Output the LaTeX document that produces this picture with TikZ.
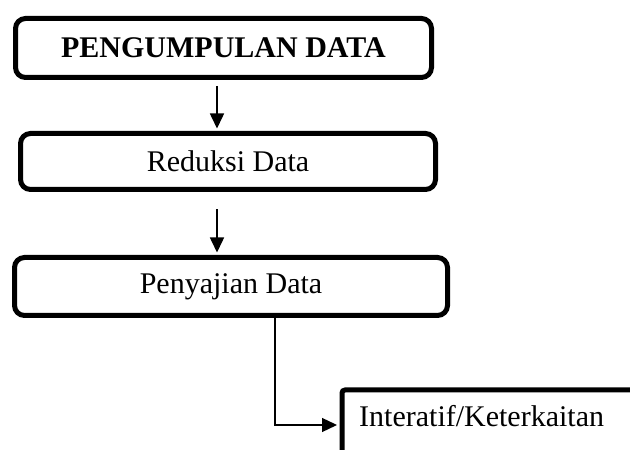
\documentclass[tikz,border=0pt]{standalone}
\usepackage{fontspec}
\setmainfont{Liberation Serif}
\usetikzlibrary{calc}
\usetikzlibrary{positioning}
\usetikzlibrary{arrows.meta}

\begin{document}
\begin{tikzpicture}[x=1pt,y=1pt,
    tahap/.style={draw,line width=5pt,rounded corners=10pt,inner sep=0pt,font=\fontsize{30}{35}\selectfont},
    teks/.style={inner sep=0pt,font=\fontsize{30}{35}\selectfont},
    panah/.style={line width=1.6pt,-{Triangle[length=15pt,width=14pt]},shorten >=2.5pt}]
        \clip (0,0) rectangle (630,450);
        \coordinate (poros) at (217,0);

        \node[tahap,minimum width=416pt,minimum height=59pt] (kumpul) at (223.5,402) {\textbf{PENGUMPULAN DATA}};
        \node[tahap,minimum width=415pt,minimum height=56pt] (reduksi) at (228,288.5) {Reduksi Data};
        \node[tahap,minimum width=433pt,minimum height=58pt] (sajian) at (231,163.5) {Penyajian Data};
        \node[tahap,anchor=north west,minimum width=340pt,minimum height=110pt,rounded corners=3pt] (interaktif) at (339.5,62.5) {};
        \node[teks,anchor=base west] (teksinter) at (359,23) {Interatif/Keterkaitan};

        \draw[panah,shorten <=6pt] (kumpul.south -| poros) -- (reduksi.north -| poros);
        \draw[panah,shorten <=17.5pt] (reduksi.south -| poros) -- (sajian.north -| poros);
        \draw[panah,line width=1.3pt] ([xshift=44pt]sajian.south) |- ([yshift=-37.5pt]interaktif.north west);
      \end{tikzpicture}
\end{document}
